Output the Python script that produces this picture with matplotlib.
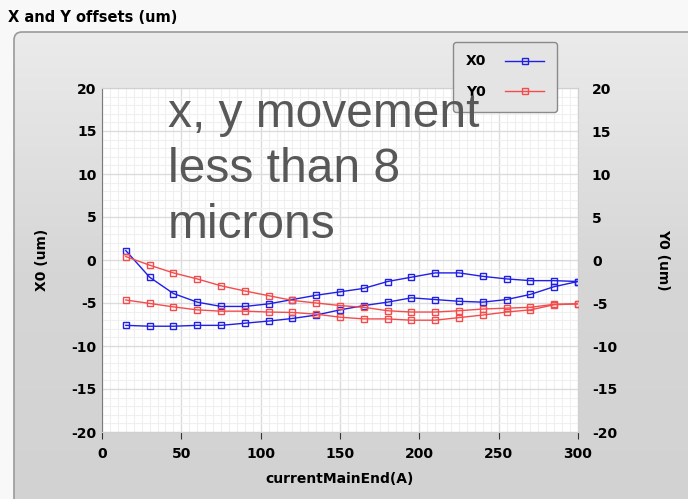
import numpy as np
import matplotlib
matplotlib.use('Agg')
import matplotlib.pyplot as plt
from matplotlib.patches import FancyBboxPatch
from matplotlib.lines import Line2D

plt.rcParams['axes.unicode_minus'] = False

# drive current (A) and measured offsets (um)
current = [15, 30, 45, 60, 75, 90, 105, 120, 135, 150, 165, 180, 195,
           210, 225, 240, 255, 270, 285, 300]
x0_run1 = [1.1, -2.0, -3.9, -4.9, -5.4, -5.4, -5.1, -4.6, -4.1, -3.7, -3.3,
           -2.5, -2.0, -1.5, -1.5, -1.9, -2.2, -2.4, -2.4, -2.5]
x0_run2 = [-7.6, -7.7, -7.7, -7.6, -7.6, -7.35, -7.1, -6.8, -6.4, -5.8,
           -5.3, -4.9, -4.4, -4.6, -4.8, -4.9, -4.6, -4.0, -3.1, -2.5]
y0_run1 = [0.4, -0.6, -1.5, -2.2, -3.0, -3.6, -4.15, -4.7, -5.0, -5.3,
           -5.5, -5.9, -6.05, -6.05, -5.9, -5.7, -5.6, -5.5, -5.15, -5.1]
y0_run2 = [-4.65, -5.05, -5.45, -5.8, -5.95, -5.95, -6.05, -6.1, -6.3,
           -6.65, -6.85, -6.85, -7.0, -7.0, -6.7, -6.4, -6.05, -5.8, -5.2, -5.1]

BLUE = '#1f1fe6'
RED = '#f44c4c'

fig = plt.figure(figsize=(6.88, 4.99), dpi=100)
fig.patch.set_facecolor('#f8f8f8')

# panel with a soft vertical gradient
bg = fig.add_axes([0, 0, 1, 1], zorder=-10)
bg.set_xlim(0, 688); bg.set_ylim(499, 0); bg.axis('off')
grad = np.linspace(0, 1, 256)[:, None]
im = bg.imshow(grad, cmap=matplotlib.colors.LinearSegmentedColormap.from_list(
    'pan', ['#ebebeb', '#d6d6d6', '#d2d2d2']), aspect='auto',
    extent=[14, 700, 510, 32])
panel = FancyBboxPatch((14, 32), 700, 480, boxstyle='round,pad=0,rounding_size=8',
                       facecolor='none', edgecolor='#9a9a9a', lw=1.2)
bg.add_patch(panel)
im.set_clip_path(panel)
fig.text(8 / 688, 1 - 18 / 499, 'X and Y offsets (um)', fontsize=10.5,
         fontweight='bold', va='center', ha='left')

ax = fig.add_axes([102 / 688, 1 - 432 / 499, 476 / 688, 344 / 499])
ax.set_facecolor('white')
ax.set_xlim(0, 300)
ax.set_ylim(-20, 20)
ax.set_xticks(np.arange(0, 301, 50))
ax.set_yticks(np.arange(-20, 21, 5))
ax.set_xticks(np.arange(0, 301, 5), minor=True)
ax.set_yticks(np.arange(-20, 21, 1), minor=True)
ax.grid(which='major', color='#dcdcdc', lw=1.0)
ax.grid(which='minor', color='#efefef', lw=0.8)
ax.set_axisbelow(True)
for s in ['top', 'right', 'bottom']:
    ax.spines[s].set_color('#d0d0d0')
ax.spines['left'].set_color('#7a7a7a')
ax.tick_params(which='minor', length=0)
ax.tick_params(axis='y', which='major', length=0, pad=4)
ax.tick_params(axis='x', which='major', length=5, color='#333333', pad=6)
for lab in ax.get_xticklabels() + ax.get_yticklabels():
    lab.set_fontweight('bold'); lab.set_fontsize(10)
ax.set_xlabel('currentMainEnd(A)', fontsize=10, fontweight='bold', labelpad=8)
ax.set_ylabel('X0 (um)', fontsize=10, fontweight='bold', labelpad=16)

mk = dict(marker='s', ms=5, mfc='none', mew=1.0, lw=1.0)
ax.plot(current, x0_run1, color=BLUE, **mk)
ax.plot(current, x0_run2, color=BLUE, **mk)

ax2 = ax.twinx()
ax2.set_ylim(-20, 20)
ax2.set_yticks(np.arange(-20, 21, 5))
ax2.tick_params(axis='y', length=0, pad=10)
for lab in ax2.get_yticklabels():
    lab.set_fontweight('bold'); lab.set_fontsize(10)
for s in ax2.spines.values():
    s.set_visible(False)
ax2.set_ylabel('Y0 (um)', fontsize=10, fontweight='bold', rotation=-90,
               labelpad=28, va='bottom')
ax2.plot(current, y0_run1, color=RED, **mk)
ax2.plot(current, y0_run2, color=RED, **mk)

handles = [Line2D([], [], color=BLUE, **mk), Line2D([], [], color=RED, **mk)]
leg = fig.legend(handles, ['X0', 'Y0'], loc='upper left',
                 bbox_to_anchor=(446 / 688, 1 - 35 / 499), markerfirst=False,
                 frameon=True, fancybox=True, facecolor='#e4e4e4',
                 edgecolor='#8a8a8a', framealpha=1, handlelength=2.8,
                 prop={'weight': 'bold', 'size': 10}, borderpad=0.9,
                 labelspacing=1.2, handletextpad=1.4)
leg.set_zorder(20)

# annotation sits over the legend edge
fig.text(168 / 688, 1 - 92 / 499, 'x, y movement\nless than 8\nmicrons',
         fontsize=34.5, color='#585858', family='Liberation Sans', va='top',
         ha='left', linespacing=1.3, zorder=30)

fig.savefig('out.png', dpi=100)
